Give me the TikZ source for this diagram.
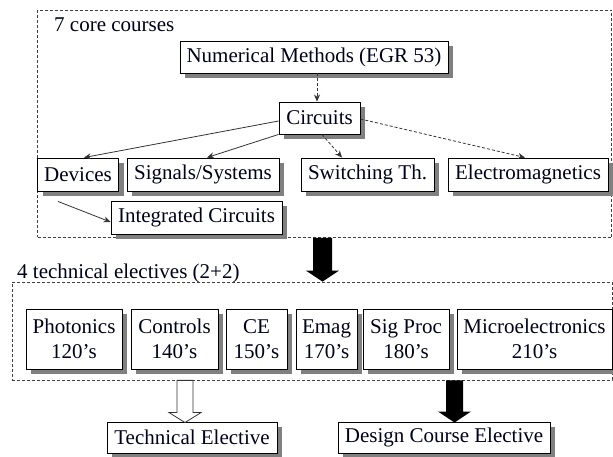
\documentclass[tikz,border=0pt]{standalone}
\usepackage{fontspec}
\setmainfont{Liberation Serif}
\usetikzlibrary{arrows.meta,calc,shadows}

% block arrow: #1 style, #2 top point, #3 tip, #4 half shaft width,
% #5 half head width, #6 head length
\newcommand\blockarr[6]{%
  \path[#1] ($(#2)+(-#4,0)$) -- ($(#3)+(-#4,-#6)$) -- ($(#3)+(-#5,-#6)$)
    -- (#3) -- ($(#3)+(#5,-#6)$) -- ($(#3)+(#4,-#6)$) -- ($(#2)+(#4,0)$) -- cycle;}

\begin{document}
\begin{tikzpicture}[x=1pt,y=-1pt,
  font=\fontsize{21}{25}\selectfont,
  course/.style={draw=black, line width=0.9pt, fill=white, inner sep=0pt,
    align=center, text=black!90!blue,
    drop shadow={shadow xshift=5pt, shadow yshift=-5pt, fill=black!50, opacity=1}},
  group/.style={draw=black!75, line width=0.7pt, dash pattern=on 3pt off 2pt,
    inner sep=0pt},
  caption/.style={anchor=base west, inner sep=0pt, text=black!90!blue},
  link/.style={draw=black!80, line width=0.8pt,
    -{Stealth[length=7pt,width=6pt]}},
  dlink/.style={link, dash pattern=on 3pt off 2pt},
  solidarrow/.style={fill=black},
  hollowarrow/.style={draw=black!80, line width=0.8pt, fill=white}
]
\useasboundingbox (0,0) rectangle (613,457);

% group frames
\node[group, minimum width=574pt, minimum height=227pt] (core) at (324.5,124) {};
\node[group, minimum width=600pt, minimum height=98pt] (elec) at (312,331) {};
\node[caption] (corelbl) at (54,32) {7 core courses};
\node[caption] (eleclbl) at (17,278) {4 technical electives (2+2)};

% core courses
\node[course, minimum width=268pt, minimum height=32pt] (num) at (314,57) {Numerical Methods (EGR 53)};
\node[course, minimum width=81pt, minimum height=32pt] (circ) at (319.5,118) {Circuits};
\node[course, minimum width=81pt, minimum height=33pt] (dev) at (78,174.5) {Devices};
\node[course, minimum width=152pt, minimum height=33pt] (sig) at (203,174.5) {Signals/Systems};
\node[course, minimum width=133pt, minimum height=33pt] (sw) at (367.5,174.5) {Switching Th.};
\node[course, minimum width=160pt, minimum height=33pt] (em) at (528,174.5) {Electromagnetics};
\node[course, minimum width=171pt, minimum height=33pt] (ic) at (196.5,217.5) {Integrated Circuits};

% technical electives
\node[course, minimum width=96pt, minimum height=60pt] (pho) at (74,339) {Photonics\\120’s};
\node[course, minimum width=87pt, minimum height=60pt] (con) at (174.5,339) {Controls\\140’s};
\node[course, minimum width=61pt, minimum height=60pt] (ce) at (256.5,339) {CE\\150’s};
\node[course, minimum width=61pt, minimum height=60pt] (emag) at (326.5,339) {Emag\\170’s};
\node[course, minimum width=86pt, minimum height=60pt] (sp) at (406,339) {Sig Proc\\180’s};
\node[course, minimum width=155pt, minimum height=60pt] (micro) at (534.5,339) {Microelectronics\\210’s};

% outcomes
\node[course, minimum width=170pt, minimum height=31pt] (te) at (192,437.5) {Technical Elective};
\node[course, minimum width=212pt, minimum height=31pt] (dce) at (444,437.5) {Design Course Elective};

% prerequisite links
\draw[dlink] ([xshift=3pt]num.south) -- ([xshift=3pt]num.south |- circ.north);
\draw[link] ([yshift=-3pt]circ.west) -- ([xshift=6pt]dev.north);
\draw[link] (circ.south west) -- ([xshift=4pt]sig.north);
\draw[dlink] ([xshift=2.5pt]circ.south) -- ([xshift=-25.5pt]sw.north);
\draw[dlink] ([yshift=-1pt]circ.east) -- ([xshift=-3pt]em.north);
\draw[link] ([xshift=-20pt,yshift=-10pt]dev.south) -- ([yshift=-4.5pt]ic.west);

% block arrows between groups
\coordinate (t1) at ([xshift=-2pt]core.south);
\coordinate (h1) at (t1 |- elec.north);
\blockarr{solidarrow}{t1}{h1}{9.5}{16.5}{11}
\coordinate (t2) at ([xshift=-7pt]te.north |- elec.south);
\coordinate (h2) at ([xshift=-7pt,yshift=-1pt]te.north);
\blockarr{hollowarrow}{t2}{h2}{8}{16}{10}
\coordinate (t3) at ([xshift=10.5pt]dce.north |- elec.south);
\coordinate (h3) at ([xshift=10.5pt,yshift=-1pt]dce.north);
\blockarr{solidarrow}{t3}{h3}{8.5}{16.5}{11}
\end{tikzpicture}
\end{document}
